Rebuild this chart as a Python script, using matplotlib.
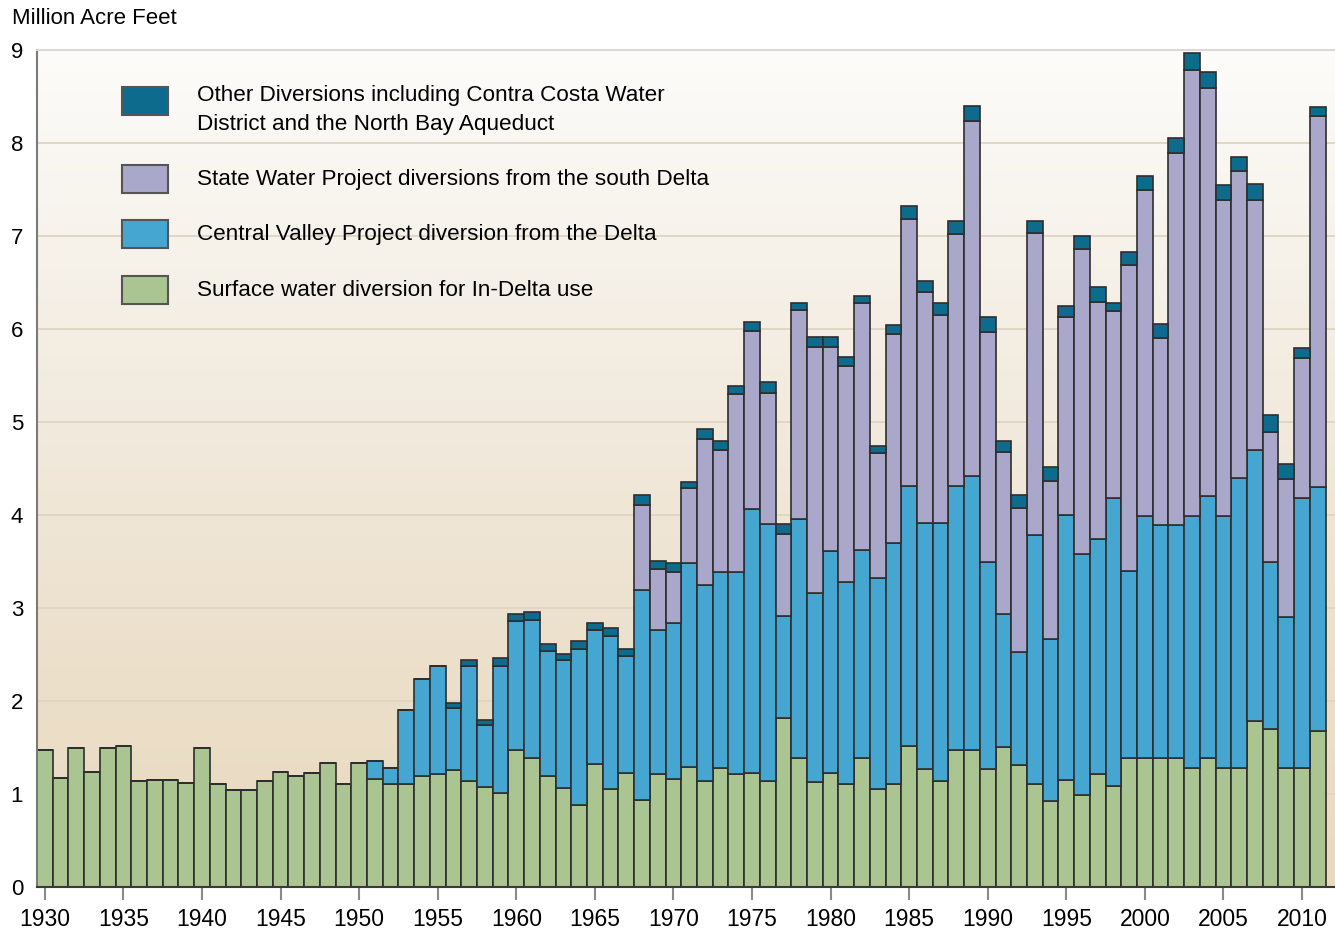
import numpy as np
import pandas as pd
import matplotlib
matplotlib.use("Agg")
import matplotlib.pyplot as plt
from matplotlib.patches import Rectangle
from matplotlib.colors import LinearSegmentedColormap

# values in million acre feet (1930-2011)
years = list(range(1930, 2012))

in_delta = [1.47, 1.17, 1.49, 1.24, 1.49, 1.52, 1.14, 1.15, 1.15, 1.12,
            1.50, 1.11, 1.04, 1.04, 1.14, 1.24, 1.19, 1.23, 1.33, 1.11,
            1.33, 1.16, 1.11, 1.11, 1.19, 1.22, 1.26, 1.14, 1.08, 1.01,
            1.47, 1.39, 1.19, 1.06, 0.88, 1.32, 1.05, 1.23, 0.94, 1.21,
            1.16, 1.29, 1.14, 1.28, 1.21, 1.23, 1.14, 1.82, 1.39, 1.13,
            1.23, 1.11, 1.39, 1.05, 1.11, 1.52, 1.27, 1.14, 1.47, 1.47,
            1.27, 1.51, 1.31, 1.11, 0.92, 1.15, 0.99, 1.21, 1.09, 1.39,
            1.39, 1.39, 1.39, 1.28, 1.39, 1.28, 1.28, 1.79, 1.70, 1.28,
            1.28, 1.68]

# Central Valley Project, from 1951
cvp_start = 1951
cvp = [0.20, 0.17, 0.79, 1.05, 1.16, 0.66, 1.24, 0.66, 1.37,
       1.39, 1.48, 1.35, 1.38, 1.68, 1.44, 1.65, 1.25, 2.25, 1.55,
       1.68, 2.19, 2.11, 2.11, 2.18, 2.83, 2.76, 1.09, 2.57, 2.03,
       2.38, 2.17, 2.23, 2.27, 2.59, 2.79, 2.64, 2.77, 2.84, 2.95,
       2.23, 1.43, 1.22, 2.67, 1.75, 2.85, 2.59, 2.53, 3.09, 2.01,
       2.60, 2.50, 2.50, 2.71, 2.81, 2.71, 3.12, 2.91, 1.79, 1.62,
       2.90, 2.62]

# State Water Project, from 1968
swp_start = 1968
swp = [0.92, 0.66,
       0.55, 0.81, 1.57, 1.31, 1.91, 1.92, 1.41, 0.89, 2.24, 2.65,
       2.20, 2.32, 2.66, 1.35, 2.25, 2.87, 2.49, 2.24, 2.71, 3.82,
       2.47, 1.74, 1.54, 3.25, 1.70, 2.13, 3.28, 2.55, 2.01, 3.29,
       3.50, 2.01, 4.00, 4.80, 4.39, 3.40, 3.30, 2.69, 1.40, 1.49,
       1.51, 3.99]

# other diversions, from 1956
other_start = 1956
other = [0.06, 0.06, 0.06, 0.08,
         0.08, 0.09, 0.07, 0.07, 0.08, 0.08, 0.09, 0.08, 0.10, 0.09,
         0.09, 0.07, 0.11, 0.10, 0.09, 0.09, 0.12, 0.10, 0.08, 0.10,
         0.10, 0.10, 0.07, 0.07, 0.09, 0.14, 0.12, 0.13, 0.14, 0.16,
         0.16, 0.12, 0.14, 0.13, 0.15, 0.12, 0.14, 0.16, 0.09, 0.14,
         0.15, 0.15, 0.16, 0.18, 0.17, 0.16, 0.15, 0.17, 0.18, 0.16,
         0.11, 0.10]

labels = ["Other Diversions including Contra Costa Water\nDistrict and the North Bay Aqueduct",
          "State Water Project diversions from the south Delta",
          "Central Valley Project diversion from the Delta",
          "Surface water diversion for In-Delta use"]

df = pd.DataFrame({"in_delta": in_delta}, index=years)
df["cvp"] = pd.Series(cvp, index=range(cvp_start, cvp_start + len(cvp)))
df["swp"] = pd.Series(swp, index=range(swp_start, swp_start + len(swp)))
df["other"] = pd.Series(other, index=range(other_start, other_start + len(other)))
df = df.fillna(0)

colors = {"in_delta": "#abc592", "cvp": "#45a6d2", "swp": "#a9a8ca", "other": "#0d6b8e"}

plt.rcParams["font.family"] = ["Liberation Sans", "DejaVu Sans"]

W, H = 1335, 932
fig = plt.figure(figsize=(W / 100, H / 100), dpi=100)
ax = fig.add_axes([37 / W, 45 / H, (1335 - 37) / W, (887 - 50) / H])

x0, x1 = 1929.5, 2012.1
ax.set_xlim(x0, x1)
ax.set_ylim(0, 9)

# background gradient
bg = LinearSegmentedColormap.from_list("bg", ["#fdfcfa", "#f4eee4", "#ede2cf", "#e9d9bd"])
ax.imshow(np.linspace(0, 1, 256).reshape(-1, 1), cmap=bg, extent=[x0, x1, 0, 9],
          aspect="auto", origin="upper", zorder=0)
ax.set_axisbelow(True)
ax.yaxis.grid(True, color="#e0d4c2", lw=1.3)

bottom = np.zeros(len(df))
for col in ["in_delta", "cvp", "swp", "other"]:
    ax.bar(df.index, df[col], bottom=bottom, width=1.0, color=colors[col],
           edgecolor="#2e2e2e", linewidth=1.2, zorder=2)
    bottom += df[col].values

ax.spines["right"].set_visible(False)
ax.spines["top"].set_color("#d9d9d9")
ax.spines["top"].set_linewidth(1.5)
ax.spines["left"].set_color("#7a7a7a")
ax.spines["left"].set_linewidth(1.5)
ax.spines["bottom"].set_color("#3a3a3a")
ax.spines["bottom"].set_linewidth(1.5)

ax.set_yticks(range(0, 10))
ax.tick_params(axis="y", length=0, pad=10, labelsize=16)
ax.set_xticks(range(1930, 2011, 5))
ax.tick_params(axis="x", length=9, width=1.5, color="#8a8a8a", pad=6, labelsize=16.5)

fig.text(12 / W, 1 - 18 / H, "Million Acre Feet", fontsize=16, va="center", ha="left")

# legend drawn by hand
legend_rows = [("other", 101, 110), ("swp", 179, 179), ("cvp", 234, 234), ("in_delta", 290, 290)]
for (col, py, ty), lab in zip(legend_rows, labels):
    fig.add_artist(Rectangle((122 / W, 1 - (py + 14) / H), 46 / W, 28 / H,
                             transform=fig.transFigure, facecolor=colors[col],
                             edgecolor="#555555", linewidth=1.5))
    fig.text(197 / W, 1 - ty / H, lab, fontsize=16.2, va="center", ha="left", linespacing=1.45)

fig.savefig("out.png", dpi=100)
